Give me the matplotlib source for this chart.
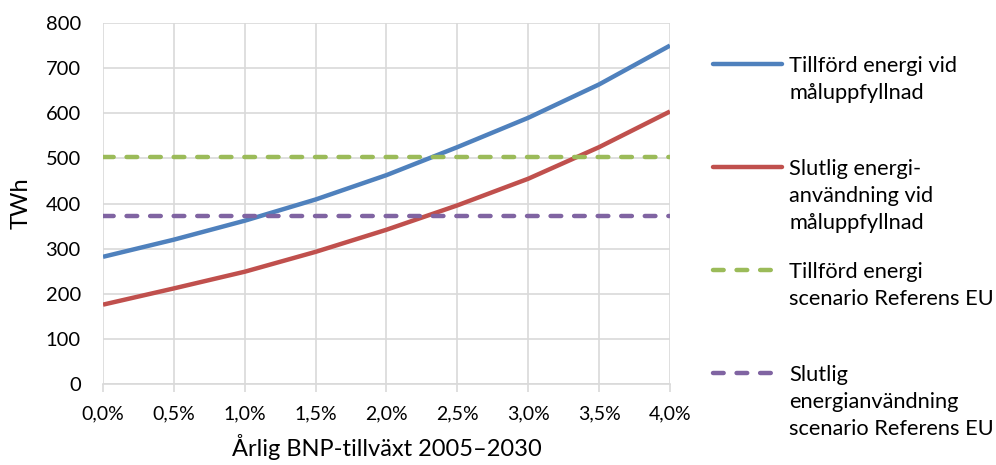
import matplotlib
matplotlib.use("Agg")
import matplotlib.pyplot as plt
from matplotlib.lines import Line2D

plt.rcParams['font.family'] = ['Lato', 'DejaVu Sans']

# BNP-tillväxt (%) och energi (TWh)
growth = [0.0, 0.5, 1.0, 1.5, 2.0, 2.5, 3.0, 3.5, 4.0]
tillford_mal = [282, 320, 362, 409, 463, 525, 590, 664, 750]
slutlig_mal = [176, 212, 249, 293, 342, 396, 455, 525, 604]
tillford_ref = 504
slutlig_ref = 372

labels = [
    "Tillförd energi vid\nmåluppfyllnad",
    "Slutlig energi-\nanvändning vid\nmåluppfyllnad",
    "Tillförd energi\nscenario Referens EU",
    "Slutlig\nenergianvändning\nscenario Referens EU",
]
colors = ["#4F81BD", "#C0504D", "#9BBB59", "#8064A2"]

fig = plt.figure(figsize=(9.96, 4.65), dpi=100)
ax = fig.add_axes([0.1034, 0.174, 0.5693, 0.7765])

lw = 3.2
dash = (2.4, 2.9)
ax.plot(growth, tillford_mal, color=colors[0], lw=lw, solid_capstyle='butt')
ax.plot(growth, slutlig_mal, color=colors[1], lw=lw, solid_capstyle='butt')
ax.plot(growth, [tillford_ref] * len(growth), color=colors[2], lw=lw,
        dashes=dash, dash_capstyle='round')
ax.plot(growth, [slutlig_ref] * len(growth), color=colors[3], lw=lw,
        dashes=dash, dash_capstyle='round')

ax.set_xlim(0, 4.0)
ax.set_ylim(0, 800)
ax.set_xticks(growth)
ax.set_xticklabels([f"{g:.1f}%".replace(".", ",") for g in growth])
ax.set_yticks(range(0, 801, 100))
ax.grid(True, color="#D9D9D9", lw=1.2)
ax.set_axisbelow(True)
for s in ["top", "right", "left"]:
    ax.spines[s].set_visible(False)
ax.spines["bottom"].set_color("#D9D9D9")
ax.spines["bottom"].set_linewidth(1.2)
ax.tick_params(axis='x', length=6, width=1.2, color="#D9D9D9", labelsize=14, pad=9)
ax.tick_params(axis='y', length=0, labelsize=14.5, pad=16)
ax.set_xlabel("Årlig BNP-tillväxt 2005–2030", fontsize=17, labelpad=9)
ax.set_ylabel("TWh", fontsize=17, labelpad=10)

# legend, handle aligned with first text line
W, H = 996, 465
ys = [64, 167, 270, 373]
for i, (lab, c) in enumerate(zip(labels, colors)):
    y = 1 - ys[i] / H
    if i < 2:
        ln = Line2D([713 / W, 782 / W], [y, y], color=c, lw=lw, solid_capstyle='round')
    else:
        ln = Line2D([713 / W, 782 / W], [y, y], color=c, lw=lw, dashes=dash,
                    dash_capstyle='round')
    fig.add_artist(ln)
    fig.text(789 / W, y + 0.0175, lab, fontsize=15.7, va='top', ha='left',
             linespacing=1.45)

fig.savefig("out.png", dpi=100)
